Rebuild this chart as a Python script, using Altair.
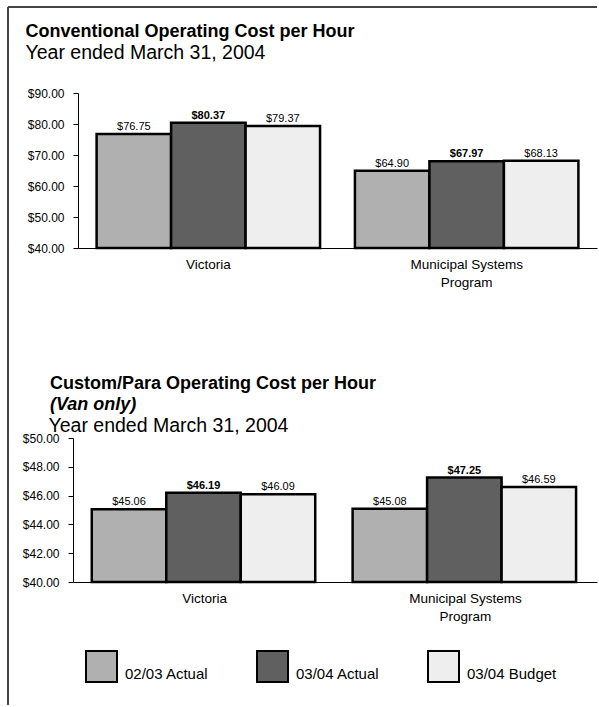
import altair as alt
import pandas as pd

groups = ["Victoria", "Municipal Systems Program"]
series = ["02/03 Actual", "03/04 Actual", "03/04 Budget"]
conv_victoria = [76.75, 80.37, 79.37]
conv_municipal = [64.90, 67.97, 68.13]
para_victoria = [45.06, 46.19, 46.09]
para_municipal = [45.08, 47.25, 46.59]
colors = ["#b0b0b0", "#606060", "#eeeeee"]
conv_ticks = [40, 50, 60, 70, 80, 90]
para_ticks = [40, 42, 44, 46, 48, 50]

FONT = "Liberation Sans"
LABEL_EXPR = ("datum.label == 'Municipal Systems Program' ? "
              "['Municipal Systems', 'Program'] : datum.label")


def make_frame(vals_a, vals_b):
    rows = []
    for g, vals in zip(groups, [vals_a, vals_b]):
        for s, v in zip(series, vals):
            rows.append({"group": g, "series": s, "value": v})
    return pd.DataFrame(rows)


def panel(df, ticks, width, height, xrange, axis_offset, sub_x, sub_y, legend,
          xtitle_kw, title=None):
    x = alt.X("group:N", sort=groups,
              scale=alt.Scale(paddingInner=0.135, paddingOuter=0.072, range=xrange),
              axis=alt.Axis(labelExpr=LABEL_EXPR, labelFontSize=13.5,
                            labelPadding=9, labelLineHeight=18, ticks=False, tickSize=0,
                            domainColor="black", labelColor="black", labelAngle=0,
                            labelFont=FONT, labelBaseline="top", **xtitle_kw))
    xo = alt.XOffset("series:N", sort=series,
                     scale=alt.Scale(paddingInner=0, paddingOuter=0))
    y = alt.Y("value:Q",
              scale=alt.Scale(domain=[ticks[0], ticks[-1]], zero=False, nice=False),
              axis=alt.Axis(values=ticks, format="$.2f", labelFontSize=12, tickSize=5,
                            labelPadding=9, domainColor="black", tickColor="black",
                            labelColor="black", labelFont=FONT, grid=False,
                            offset=axis_offset,
                            title="Year ended March 31, 2004", titleAngle=0,
                            titleAlign="left", titleBaseline="alphabetic",
                            titleX=sub_x, titleY=sub_y, titleFontSize=19.5,
                            titleFontWeight="normal", titleColor="black",
                            titleFont=FONT))
    base = alt.Chart(df)
    bars = base.mark_bar(stroke="black", strokeWidth=2.5).encode(
        x=x, xOffset=xo, y=y, y2=alt.datum(ticks[0]),
        color=alt.Color("series:N", sort=series,
                        scale=alt.Scale(domain=series, range=colors), legend=legend),
    )
    txt_plain = base.transform_filter(alt.datum.series != "03/04 Actual").mark_text(
        dy=-4, baseline="alphabetic", fontSize=11, font=FONT, color="black"
    ).encode(x=x, xOffset=xo, y=y, text=alt.Text("value:Q", format="$.2f"))
    txt_bold = base.transform_filter(alt.datum.series == "03/04 Actual").mark_text(
        dy=-4, baseline="alphabetic", fontSize=11, font=FONT, color="black",
        fontWeight="bold"
    ).encode(x=x, xOffset=xo, y=y, text=alt.Text("value:Q", format="$.2f"))
    layered = alt.layer(bars, txt_plain, txt_bold).properties(width=width, height=height)
    if title is not None:
        layered = layered.properties(title=title)
    return layered


conv_df = make_frame(conv_victoria, conv_municipal)
para_df = make_frame(para_victoria, para_municipal)

xtitle1 = dict(title="Conventional Operating Cost per Hour", titleX=-48, titleY=-212,
               titleAlign="left", titleBaseline="alphabetic", titleAngle=0,
               titleFontSize=18, titleFontWeight="bold", titleColor="black",
               titleFont=FONT)
xtitle2 = dict(title=None)

title2 = alt.TitleParams("Custom/Para Operating Cost per Hour", subtitle="(Van only)",
                         anchor="start", frame="group", dx=-23, fontSize=18,
                         fontWeight="bold", font=FONT, color="black",
                         subtitleFontSize=18, subtitleFontWeight="bold",
                         subtitleFontStyle="italic", subtitleColor="black",
                         subtitleFont=FONT, subtitlePadding=3, offset=1)

legend = alt.Legend(title=None, orient="none", legendX=12, legendY=212,
                    direction="horizontal", symbolType="square", symbolSize=961,
                    symbolStrokeColor="black", symbolStrokeWidth=2, labelFontSize=15,
                    labelFont=FONT, labelColor="black", labelOffset=7,
                    labelBaseline="top", columnPadding=44, padding=0)

c1 = panel(conv_df, conv_ticks, 524, 155, [5, 524], -5, -53, -35, None, xtitle1)
c2 = panel(para_df, para_ticks, 524, 144, [0, 524], 0, -25, -7, legend, xtitle2,
           title=title2)

border_data = alt.Data(values=[{"k": 0}])
top_rule = alt.Chart(border_data).mark_rule(color="#444444", strokeWidth=2).encode(
    x=alt.value(-65), x2=alt.value(524), y=alt.value(-86))
left_rule = alt.Chart(border_data).mark_rule(color="#444444", strokeWidth=2).encode(
    x=alt.value(-65), y=alt.value(-86), y2=alt.value(612))

c1 = alt.layer(c1, top_rule, left_rule)

chart = alt.vconcat(c1, c2, spacing=190, bounds="flush").resolve_scale(
    color="independent"
).properties(
    padding={"left": 7, "top": 6, "right": 0, "bottom": 0}
).configure(font=FONT).configure_view(strokeWidth=0)

chart.save("out.html", embed_options={"renderer": "svg", "actions": False})
